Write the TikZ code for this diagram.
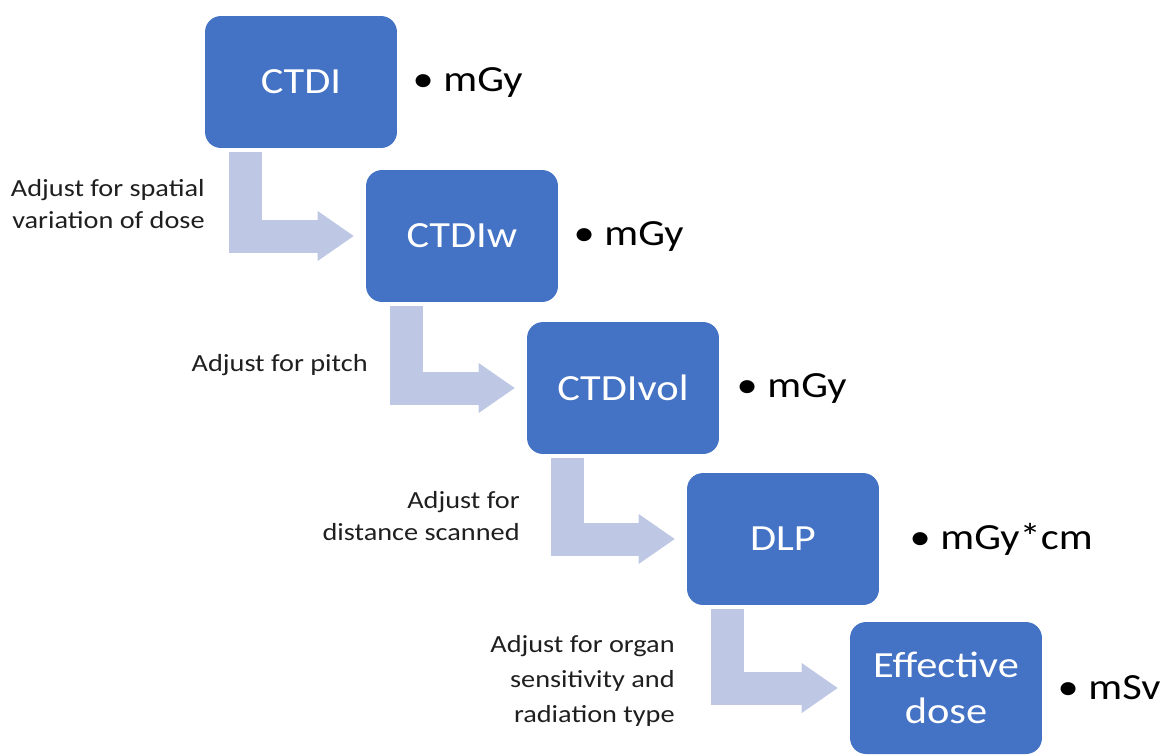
\documentclass[tikz,border=0pt]{standalone}
\usepackage{fontspec}
\setmainfont{Carlito}[FakeStretch=1.15]
\usetikzlibrary{positioning,arrows.meta}
\definecolor{boxblue}{RGB}{68,114,196}
\definecolor{arrowgrey}{RGB}{190,200,228}

\begin{document}
\begin{tikzpicture}[x=0.02cm,y=-0.02cm,
    stepbox/.style={fill=boxblue,text=white,rounded corners=0.32cm,
        minimum width=3.84cm,minimum height=2.64cm,inner sep=0pt,
        align=center,font=\fontsize{21}{26.5}\selectfont},
    unitlabel/.style={inner sep=0pt,font=\fontsize{21}{26}\selectfont},
    adjlabel/.style={inner sep=0pt,align=right,anchor=east,text=black!88,
        font=\fontsize{14}{18}\selectfont},
    bendarrow/.style={arrowgrey,line width=0.66cm,shorten >=0.24cm,
        -{Triangle[width=1cm,length=0.72cm,line width=0pt]}}]
    \useasboundingbox (0,0) rectangle (1165,754);

    % the five quantities
    \node[stepbox] (ctdi)    at (301,82)  {CTDI};
    \node[stepbox] (ctdiw)   at (462,236) {CTDIw};
    \node[stepbox] (ctdivol) at (623,388) {CTDIvol};
    \node[stepbox] (dlp)     at (783,539) {DLP};
    \node[stepbox] (effdose) at (946,688) {Effective\\dose};

    % units
    \node[unitlabel,right=0.3cm of ctdi]    (ctdiunit)    {• mGy};
    \node[unitlabel,right=0.3cm of ctdiw]   (ctdiwunit)   {• mGy};
    \node[unitlabel,right=0.34cm of ctdivol] (ctdivolunit) {• mGy};
    \node[unitlabel,right=0.6cm of dlp]     (dlpunit)     {• mGy*cm};
    \node[unitlabel,right=0.3cm of effdose] (effdoseunit) {• mSv};

    % bent arrows between the boxes
    \draw[bendarrow] ([xshift=0.82cm,yshift=-0.08cm]ctdi.south west) |- (ctdiw.west);
    \draw[bendarrow] ([xshift=0.82cm,yshift=-0.08cm]ctdiw.south west) |- (ctdivol.west);
    \draw[bendarrow] ([xshift=0.82cm,yshift=-0.08cm]ctdivol.south west) |- (dlp.west);
    \draw[bendarrow] ([xshift=0.82cm,yshift=-0.08cm]dlp.south west) |- (effdose.west);

    % what each step adjusts for
    \node[adjlabel] (adjspatial) at (205,204) {Adjust for spatial\\variation of dose};
    \node[adjlabel] (adjpitch)   at (368,365) {Adjust for pitch};
    \node[adjlabel] (adjdist)    at (520,516) {Adjust for\\distance scanned};
    \node[adjlabel,font=\fontsize{14}{20}\selectfont] (adjorgan) at (675,681)
        {Adjust for organ\\sensitivity and\\radiation type};
\end{tikzpicture}
\end{document}
